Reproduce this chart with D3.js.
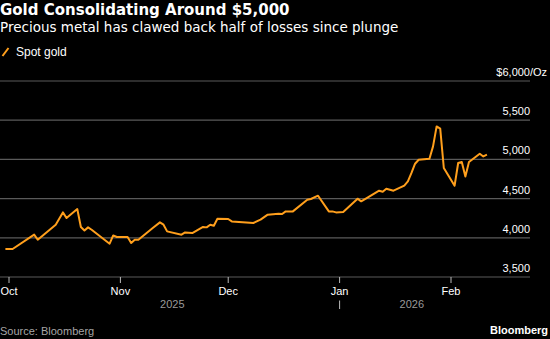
<!DOCTYPE html>
<meta charset="utf-8">
<script src="https://cdn.jsdelivr.net/npm/d3@7"></script>
<style type="text/css">
    body {
        margin: 0;
        background: #000;
    }

    svg {
        display: block;
        font-family: "Liberation Sans", Arial, sans-serif;
    }

    .title {
        font-family: "DejaVu Sans", sans-serif;
        font-size: 15px;
        font-weight: bold;
        fill: #fff;
    }

    .subtitle {
        font-family: "DejaVu Sans", sans-serif;
        font-size: 13.5px;
        fill: #fff;
    }

    .label {
        font-size: 11px;
        fill: #fff;
    }

    .year {
        font-size: 11px;
        fill: #9a9a9a;
    }

    .source {
        font-size: 11px;
        fill: #a6a6a6;
    }
</style>

<body>
    <script type="text/javascript">
        // spot gold, USD per ounce
        var dates = [
            "2025-09-30", "2025-10-02", "2025-10-08", "2025-10-09", "2025-10-14", "2025-10-16",
            "2025-10-17", "2025-10-20", "2025-10-21", "2025-10-22", "2025-10-23", "2025-10-24",
            "2025-10-29", "2025-10-30", "2025-10-31", "2025-11-03", "2025-11-04", "2025-11-05",
            "2025-11-06", "2025-11-10", "2025-11-12", "2025-11-13", "2025-11-14", "2025-11-18",
            "2025-11-19", "2025-11-21", "2025-11-24", "2025-11-25", "2025-11-26", "2025-11-27",
            "2025-11-28", "2025-12-01", "2025-12-02", "2025-12-08", "2025-12-10", "2025-12-12",
            "2025-12-15", "2025-12-16", "2025-12-17", "2025-12-19", "2025-12-23", "2025-12-24",
            "2025-12-26", "2025-12-29", "2025-12-30", "2025-12-31", "2026-01-02", "2026-01-06",
            "2026-01-07", "2026-01-09", "2026-01-12", "2026-01-13", "2026-01-14", "2026-01-16",
            "2026-01-19", "2026-01-20", "2026-01-21", "2026-01-22", "2026-01-23", "2026-01-26",
            "2026-01-27", "2026-01-28", "2026-01-29", "2026-01-30", "2026-02-02", "2026-02-03",
            "2026-02-04", "2026-02-05", "2026-02-06", "2026-02-09", "2026-02-10", "2026-02-11"
        ];
        var spotGold = [
            3857, 3857, 4040, 3975, 4167, 4324,
            4252, 4367, 4138, 4094, 4133, 4103,
            3925, 4030, 4010, 4010, 3934, 3976,
            3976, 4125, 4197, 4167, 4082, 4040,
            4069, 4061, 4138, 4133, 4167, 4154,
            4243, 4240, 4209, 4189, 4231, 4295,
            4307, 4303, 4337, 4337, 4486, 4495,
            4537, 4337, 4337, 4324, 4329, 4499,
            4465, 4520, 4601, 4588, 4626, 4601,
            4665, 4720, 4827, 4945, 4996, 5009,
            5166, 5421, 5392, 4890, 4665, 4954,
            4967, 4783, 4967, 5073, 5038, 5060
        ];
        var yTicks = [3500, 4000, 4500, 5000, 5500, 6000];
        var monthTicks = ["2025-10-01", "2025-11-01", "2025-12-01", "2026-01-01", "2026-02-01"];
        var years = [
            { label: "2025", from: "2025-10-01", to: "2026-01-01" },
            { label: "2026", from: "2026-01-01", to: "2026-02-28" }
        ];

        var width = 550, height = 339;
        var plot = { left: 0, right: 530, top: 81, bottom: 277 };
        var parse = d3.timeParse("%Y-%m-%d");

        var data = dates.map(function (d, i) {
            return { date: parse(d), value: spotGold[i] };
        });

        var svg = d3.select("body").append("svg")
            .attr("width", width)
            .attr("height", height);

        svg.append("rect")
            .attr("width", width)
            .attr("height", height)
            .attr("fill", "#000");

        var xScale = d3.scaleTime()
            .domain([parse("2025-10-01"), parse("2026-02-01")])
            .range([9, 451]);

        var yScale = d3.scaleLinear()
            .domain([3500, 6000])
            .range([plot.bottom, plot.top]);

        // titles
        svg.append("text").attr("class", "title")
            .attr("x", 0).attr("y", 15)
            .text("Gold Consolidating Around $5,000");
        svg.append("text").attr("class", "subtitle")
            .attr("x", 0).attr("y", 31.5)
            .text("Precious metal has clawed back half of losses since plunge");

        // legend
        svg.append("line")
            .attr("x1", 2.5).attr("y1", 56)
            .attr("x2", 8.5).attr("y2", 48)
            .attr("stroke", "#ff9f1c")
            .attr("stroke-width", 2);
        svg.append("text").attr("class", "label")
            .attr("x", 16).attr("y", 56)
            .style("font-size", "12px")
            .text("Spot gold");

        // gridlines and value labels on the right
        var grid = svg.append("g");
        grid.selectAll("line")
            .data(yTicks)
            .enter().append("line")
            .attr("x1", plot.left)
            .attr("x2", plot.right)
            .attr("y1", function (d) { return yScale(d); })
            .attr("y2", function (d) { return yScale(d); })
            .attr("stroke", "#5a5a5a")
            .attr("stroke-width", 1.2);

        grid.selectAll("text")
            .data(yTicks)
            .enter().append("text")
            .attr("class", "label")
            .attr("x", plot.right)
            .attr("y", function (d) { return yScale(d) - 5; })
            .style("text-anchor", "end")
            .text(function (d) {
                var s = d3.format(",")(d);
                return d === 6000 ? "$" + s : s;
            });

        // unit suffix hangs past the right edge of the numbers
        svg.append("text").attr("class", "label")
            .attr("x", plot.right)
            .attr("y", yScale(6000) - 5)
            .text("/Oz");

        // month axis
        var xAxis = svg.append("g");
        xAxis.selectAll("line")
            .data(monthTicks)
            .enter().append("line")
            .attr("x1", function (d) { return xScale(parse(d)); })
            .attr("x2", function (d) { return xScale(parse(d)); })
            .attr("y1", plot.bottom)
            .attr("y2", plot.bottom + 6)
            .attr("stroke", "#bbb")
            .attr("stroke-width", 1);

        xAxis.selectAll("text")
            .data(monthTicks)
            .enter().append("text")
            .attr("class", "label")
            .attr("x", function (d) { return xScale(parse(d)); })
            .attr("y", 295)
            .style("text-anchor", "middle")
            .text(function (d) { return d3.timeFormat("%b")(parse(d)); });

        svg.selectAll(".year")
            .data(years)
            .enter().append("text")
            .attr("class", "year")
            .attr("x", function (d) { return (xScale(parse(d.from)) + Math.min(488, xScale(parse(d.to)))) / 2 - 2; })
            .attr("y", 308)
            .style("text-anchor", "middle")
            .text(function (d) { return d.label; });

        // year boundary marker
        svg.append("line")
            .attr("x1", xScale(parse("2026-01-01")))
            .attr("x2", xScale(parse("2026-01-01")))
            .attr("y1", 300.5)
            .attr("y2", 309)
            .attr("stroke", "#bbb")
            .attr("stroke-width", 1);

        // price line
        var line = d3.line()
            .x(function (d) { return xScale(d.date); })
            .y(function (d) { return yScale(d.value); });

        svg.append("path")
            .datum(data)
            .attr("fill", "none")
            .attr("stroke", "#ff9f1c")
            .attr("stroke-width", 2)
            .attr("stroke-linejoin", "round")
            .attr("d", line);

        // footer
        svg.append("text").attr("class", "source")
            .attr("x", 0).attr("y", 335)
            .text("Source: Bloomberg");
        svg.append("text").attr("class", "label")
            .attr("x", 548).attr("y", 334)
            .style("text-anchor", "end")
            .style("font-weight", "bold")
            .text("Bloomberg");
    </script>
</body>

</html>
